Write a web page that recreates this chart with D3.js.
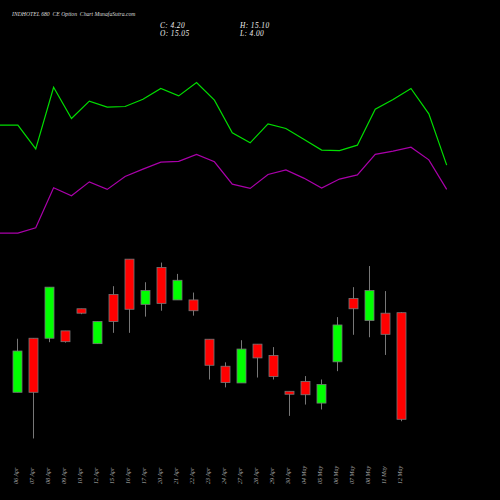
<!DOCTYPE html>
<html>
<head>
<meta charset="utf-8">
<script src="https://cdn.jsdelivr.net/npm/d3@7"></script>
<style>
  html, body { margin: 0; background: #000; overflow: hidden; }
  svg { display: block; }
  text { font-family: "Liberation Serif", serif; font-style: italic; }
</style>
</head>
<body>
<script>
const dates = ['06 Apr', '07 Apr', '08 Apr', '09 Apr', '10 Apr', '12 Apr', '15 Apr', '16 Apr', '17 Apr', '20 Apr', '21 Apr', '22 Apr', '23 Apr', '24 Apr', '27 Apr', '28 Apr', '29 Apr', '30 Apr', '04 May', '05 May', '06 May', '07 May', '08 May', '11 May', '12 May']

const opens =  [6.95, 12.45, 12.45, 13.2, 15.45, 11.9, 16.9, 20.5, 15.9, 19.65, 16.35, 16.35, 12.35, 9.6, 7.9, 11.85, 10.7, 7.05, 8.05, 5.85, 10.05, 16.5, 14.25, 15.0, 15.05]
const closes = [11.15, 6.95, 17.65, 12.1, 15.0, 14.15, 14.15, 15.4, 17.3, 16.0, 18.35, 15.25, 9.7, 7.95, 11.35, 10.45, 8.55, 6.75, 6.7, 7.75, 13.8, 15.45, 17.3, 12.85, 4.2]
const highs =  [12.4, 12.45, 17.65, 13.2, 15.45, 14.15, 17.75, 20.5, 18.15, 20.15, 19.0, 17.1, 12.35, 10.0, 12.25, 11.85, 11.55, 7.05, 8.6, 8.25, 14.6, 17.65, 19.8, 17.25, 15.1]
const lows =   [6.95, 2.25, 12.05, 12.0, 14.9, 11.9, 13.0, 13.0, 14.65, 15.25, 16.35, 14.75, 8.25, 7.45, 7.9, 8.45, 8.25, 4.55, 5.7, 5.2, 9.1, 12.8, 12.55, 10.75, 4.0]

// the two lines run on their own wider spacing, one point more than the candles
const greenLine =  [34.14, 34.14, 31.73, 38.0, 34.82, 36.58, 35.97, 36.04, 36.78, 37.87, 37.12, 38.48, 36.68, 33.36, 32.34, 34.27, 33.8, 32.71, 31.6, 31.54, 32.1, 35.77, 36.75, 37.87, 35.29, 30.07]
const purpleLine = [23.15, 23.15, 23.69, 27.76, 26.95, 28.37, 27.6, 28.92, 29.66, 30.37, 30.45, 31.16, 30.41, 28.14, 27.7, 29.12, 29.59, 28.75, 27.73, 28.65, 29.08, 31.16, 31.49, 31.9, 30.61, 27.6]

const title = 'INDHOTEL 680  CE Option  Chart MunafaSutra.com'
const ohlcLabels = [
  { t: 'C: 4.20', x: 160, y: 27.8 },
  { t: 'O: 15.05', x: 160, y: 36.4 },
  { t: 'H: 15.10', x: 240, y: 27.8 },
  { t: 'L: 4.00', x: 240, y: 36.4 }
]

const width = 500, height = 500

const svg = d3.select('body').append('svg')
  .attr('width', width)
  .attr('height', height)
  .style('background', '#000')

let x = d3.scalePoint().domain(dates).range([17.5, 401.5])
let lineX = d3.scaleLinear().domain([0, greenLine.length - 1]).range([0, 446.7])
// 4.2 sits at 419.3px, 15.05 at 312.7px
let y = d3.scaleLinear().domain([4.2, 15.05]).range([419.3, 312.7])

let line = d3.line()
  .x((d, i) => lineX(i))
  .y(d => y(d))

svg.append('path').attr('d', line(greenLine))
  .attr('fill', 'none').attr('stroke', '#00dd00').attr('stroke-width', 1.2)
svg.append('path').attr('d', line(purpleLine))
  .attr('fill', 'none').attr('stroke', '#aa00aa').attr('stroke-width', 1.2)

let candles = svg.append('g').selectAll('g')
  .data(dates)
  .join('g')

candles.append('line')
  .attr('x1', d => x(d))
  .attr('x2', d => x(d))
  .attr('y1', (d, i) => y(highs[i]))
  .attr('y2', (d, i) => y(lows[i]))
  .attr('stroke', '#777')
  .attr('stroke-width', 1)

candles.append('rect')
  .attr('x', d => x(d) - 4.5)
  .attr('width', 9)
  .attr('y', (d, i) => y(Math.max(opens[i], closes[i])))
  .attr('height', (d, i) => Math.abs(y(opens[i]) - y(closes[i])))
  .attr('fill', (d, i) => closes[i] > opens[i] ? '#00ff00' : '#ff0000')
  .attr('stroke', '#777')
  .attr('stroke-width', 0.8)

let axis = svg.append('g')
  .attr('transform', 'translate(0,484)')
  .call(d3.axisBottom(x).tickSize(0))

axis.select('.domain').remove()
axis.selectAll('text')
  .attr('transform', 'rotate(-90)')
  .attr('text-anchor', 'start')
  .attr('x', 0)
  .attr('y', 0)
  .attr('dy', 0)
  .attr('fill', '#aaa')
  .style('font-family', '"Liberation Serif", serif')
  .style('font-size', '6px')

svg.append('text')
  .attr('x', 12)
  .attr('y', 16)
  .attr('fill', '#ddd')
  .style('font-size', '5.7px')
  .style('white-space', 'pre')
  .text(title)

svg.selectAll('.ohlc')
  .data(ohlcLabels)
  .join('text')
  .attr('class', 'ohlc')
  .attr('x', d => d.x)
  .attr('y', d => d.y)
  .attr('fill', '#eee')
  .style('font-size', '7.4px')
  .style('letter-spacing', '0.4px')
  .text(d => d.t)
</script>
</body>
</html>
